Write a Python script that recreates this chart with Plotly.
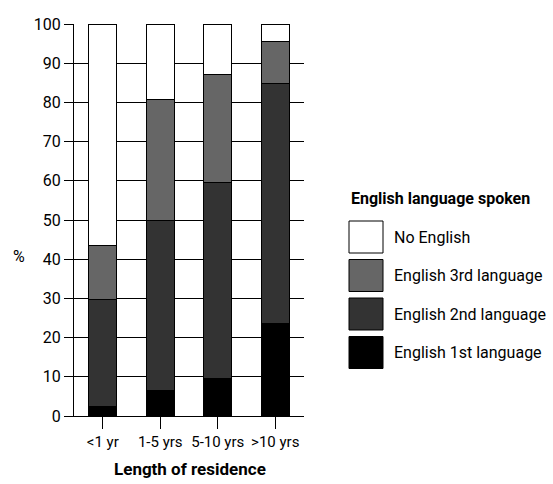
import plotly.graph_objects as go

categories = ["<1 yr", "1-5 yrs", "5-10 yrs", ">10 yrs"]
series_names = ["English 1st language", "English 2nd language", "English 3rd language", "No English"]
english_1st = [2.4, 6.6, 9.6, 23.6]
english_2nd = [27.4, 43.4, 50.0, 61.3]
english_3rd = [13.8, 30.7, 27.5, 10.6]
no_english = [56.4, 19.3, 12.9, 4.5]
y_ticks = [0, 10, 20, 30, 40, 50, 60, 70, 80, 90, 100]
legend_title = "English language spoken"
x_title = "Length of residence"
y_title = "%"

colors = ["#000000", "#333333", "#666666", "#ffffff"]
values = [english_1st, english_2nd, english_3rd, no_english]

FONT = "Roboto, sans-serif"
W, H = 553, 484
L, R, T, B = 74, 249, 24, 68

fig = go.Figure()
for name, vals, col in zip(series_names, values, colors):
    fig.add_trace(go.Bar(
        x=categories, y=vals, name=name,
        marker=dict(color=col, line=dict(color="#000000", width=1)),
        width=0.48, showlegend=False,
    ))

def px_to_paper_x(px):
    return (px - L) / (W - L - R)

def px_to_paper_y(py):
    return (H - B - py) / (H - T - B)

shapes = []
annotations = []
annotations.append(dict(text="<b>" + legend_title + "</b>", xref="paper", yref="paper",
                        x=px_to_paper_x(349), y=px_to_paper_y(198), xanchor="left", yanchor="middle",
                        showarrow=False, font=dict(family=FONT, size=16, color="#000")))
legend_order = list(reversed(range(len(series_names))))
for i, k in enumerate(legend_order):
    top = 221 + i * 38.5
    shapes.append(dict(type="rect", xref="paper", yref="paper",
                       x0=px_to_paper_x(349), x1=px_to_paper_x(383),
                       y0=px_to_paper_y(top), y1=px_to_paper_y(top + 32),
                       fillcolor=colors[k], line=dict(color="#000", width=1)))
    annotations.append(dict(text=series_names[k], xref="paper", yref="paper",
                            x=px_to_paper_x(392), y=px_to_paper_y(top + 16),
                            xanchor="left", yanchor="middle", showarrow=False,
                            font=dict(family=FONT, size=16, color="#000")))
annotations.append(dict(text=y_title, xref="paper", yref="paper",
                        x=px_to_paper_x(19), y=px_to_paper_y(256), xanchor="center", yanchor="middle",
                        showarrow=False, font=dict(family=FONT, size=16, color="#000")))
annotations.append(dict(text="<b>" + x_title + "</b>", xref="paper", yref="paper",
                        x=px_to_paper_x(190), y=px_to_paper_y(469), xanchor="center", yanchor="middle",
                        showarrow=False, font=dict(family=FONT, size=17, color="#000")))

fig.update_layout(
    width=W, height=H,
    margin=dict(l=L, r=R, t=T, b=B, pad=0, autoexpand=False),
    barmode="stack",
    plot_bgcolor="#ffffff", paper_bgcolor="#ffffff",
    font=dict(family=FONT, size=16, color="#000"),
    shapes=shapes, annotations=annotations,
    showlegend=False,
)
fig.update_xaxes(
    automargin=False, tickangle=0,
    showline=True, linecolor="#000", linewidth=1,
    ticks="outside", ticklen=12, tickcolor="#000", tickwidth=1,
    showgrid=False,
    tickfont=dict(family=FONT, size=15),
)
fig.update_yaxes(
    automargin=False,
    range=[0, 100], tickvals=y_ticks,
    showline=True, linecolor="#000", linewidth=1,
    ticks="outside", ticklen=9, tickcolor="#000", tickwidth=1,
    showgrid=True, gridcolor="#000", gridwidth=1,
    zeroline=False,
    tickfont=dict(family=FONT, size=16),
)

fig.write_html("out.html", config={"displayModeBar": False},
               post_script="document.body.style.margin='0';")
